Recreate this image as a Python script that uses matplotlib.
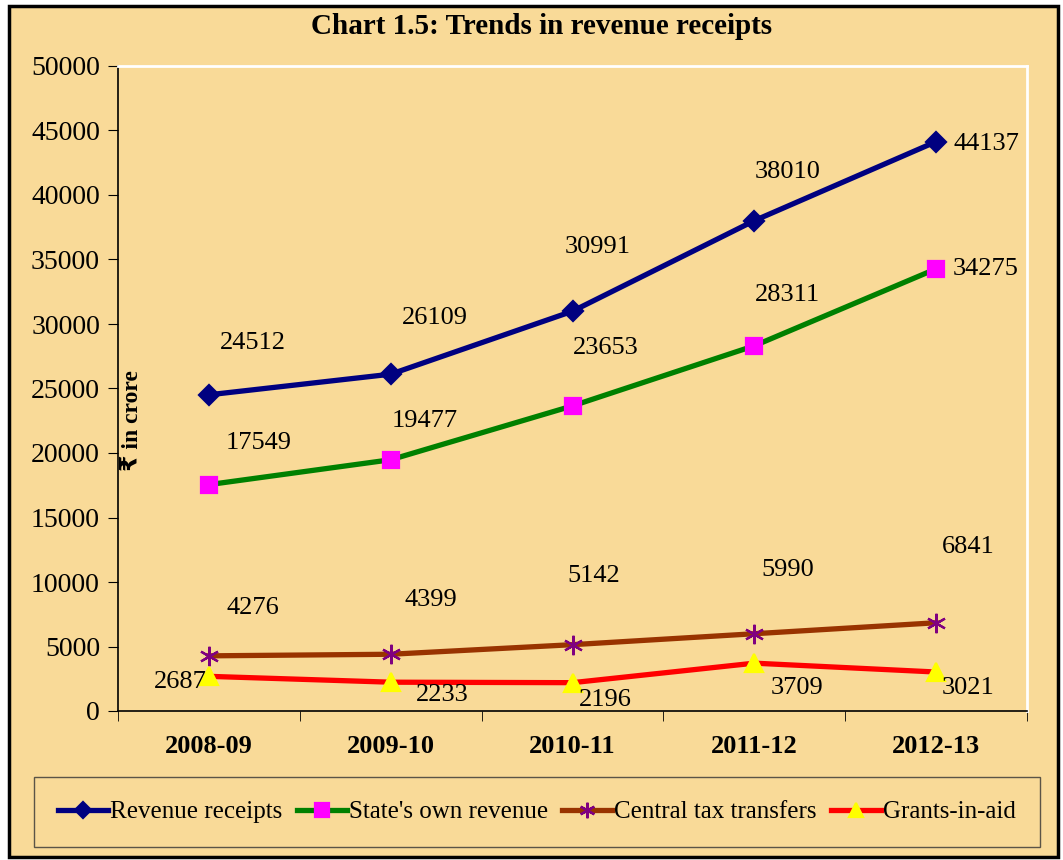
import matplotlib.pyplot as plt
from matplotlib.patches import Rectangle

# data
years = ["2008-09", "2009-10", "2010-11", "2011-12", "2012-13"]
revenue_receipts = [24512, 26109, 30991, 38010, 44137]
states_own_revenue = [17549, 19477, 23653, 28311, 34275]
central_tax_transfers = [4276, 4399, 5142, 5990, 6841]
grants_in_aid = [2687, 2233, 2196, 3709, 3021]

bg = "#F9DA98"
serif = ["Liberation Serif", "DejaVu Serif"]
plt.rcParams['font.family'] = serif

fig = plt.figure(figsize=(10.63, 8.6), dpi=100)
fig.patch.set_facecolor("white")
fig.patches.append(Rectangle((9 / 1063, 3 / 860), 1049 / 1063, 851 / 860,
                             transform=fig.transFigure, facecolor=bg,
                             edgecolor="black", linewidth=2.5, zorder=-1))

ax = fig.add_axes([118 / 1063, 1 - 711 / 860, 909 / 1063, 645 / 860])
ax.set_facecolor(bg)

x = range(len(years))
series = [
    ("Revenue receipts", revenue_receipts, "#000080", "D", "#000080", 10),
    ("State's own revenue", states_own_revenue, "#008000", "s", "#FF00FF", 12),
    ("Central tax transfers", central_tax_transfers, "#993300", (6, 2, 0), "#800080", 14),
    ("Grants-in-aid", grants_in_aid, "#FF0000", "^", "#FFFF00", 13),
]
for name, vals, col, mk, mcol, ms in series:
    ax.plot(x, vals, color=col, linewidth=3.8, marker=mk, markersize=ms,
            markerfacecolor=mcol, markeredgecolor=mcol, markeredgewidth=1.6,
            label=name, zorder=3)

# label offsets in pixels (dx, dy)
offsets = [
    [(44, 52), (44, 56), (25, 64), (33, 49), (50, -2)],
    [(50, 42), (34, 39), (33, 58), (33, 51), (50, 0)],
    [(44, 48), (40, 54), (21, 69), (33, 64), (32, 76)],
    [(-29, -6), (52, -13), (33, -17), (43, -25), (32, -16)],
]
for (name, vals, *_), offs in zip(series, offsets):
    for i, v in enumerate(vals):
        ax.annotate(str(v), (i, v), xytext=offs[i], textcoords="offset pixels",
                    ha="center", va="center", fontsize=19, zorder=4)

ax.set_xlim(-0.5, 4.5)
ax.set_ylim(0, 50000)
ax.set_yticks(range(0, 50001, 5000))
ax.set_xticks(list(x))
ax.set_xticklabels(years, fontsize=19, fontweight="bold")
ax.set_xticks([i - 0.5 for i in range(6)], minor=True)
ax.tick_params(axis="x", which="major", length=0, pad=17)
ax.tick_params(axis="x", which="minor", length=7, direction="out")
ax.tick_params(axis="y", labelsize=20, length=7, direction="out", pad=6)
for s in ["top", "right"]:
    ax.spines[s].set_color("white")
    ax.spines[s].set_linewidth(2)
for s in ["left", "bottom"]:
    ax.spines[s].set_color("black")
    ax.spines[s].set_linewidth(1.2)

ax.text(0.016, 0.45, "\u20b9 in crore", transform=ax.transAxes, rotation=90,
        ha="center", va="center", fontsize=17, fontweight="bold",
        family=["Liberation Serif", "DejaVu Sans"])

fig.text(0.509, 1 - 27 / 860, "Chart 1.5: Trends in revenue receipts",
         ha="center", va="center", fontsize=21, fontweight="bold")

leg = fig.legend(loc="center", bbox_to_anchor=(537 / 1063, 1 - 812 / 860), ncol=4,
                 fontsize=18, frameon=True, fancybox=False, facecolor=bg,
                 edgecolor="#333333", handlelength=2.0, handletextpad=0.1,
                 columnspacing=0.55, borderpad=0.95, markerscale=0.8)
leg.get_frame().set_linewidth(1)

fig.savefig("out.png", dpi=100, facecolor=fig.get_facecolor())
